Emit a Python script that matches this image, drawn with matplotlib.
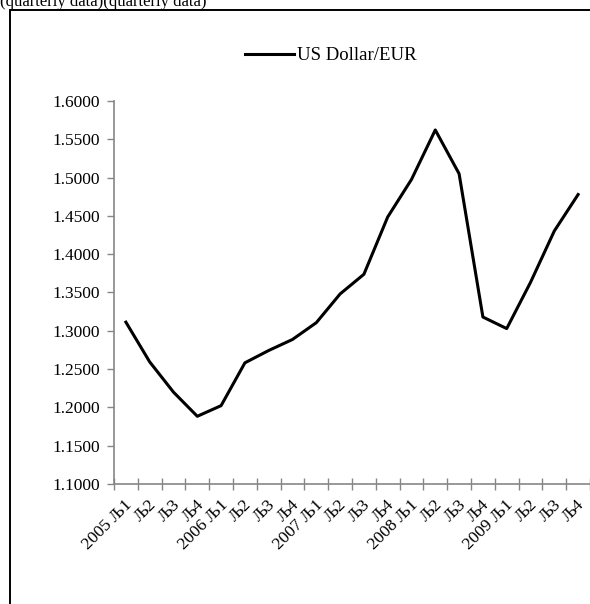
import numpy as np
import matplotlib
matplotlib.use("Agg")
import matplotlib.pyplot as plt
from matplotlib.patches import Rectangle

plt.rcParams['font.family'] = ['Liberation Serif', 'DejaVu Serif']

years = ['2005', '2006', '2007', '2008', '2009']
quarters = ['Љ1', 'Љ2', 'Љ3', 'Љ4']
usd_eur = [1.3113, 1.2594, 1.2199, 1.1884,
           1.2023, 1.2582, 1.2743, 1.2887,
           1.3106, 1.3481, 1.3738, 1.4486,
           1.4976, 1.5622, 1.5050, 1.3180,
           1.3029, 1.3632, 1.4303, 1.4779]
yticks = [1.10, 1.15, 1.20, 1.25, 1.30, 1.35, 1.40, 1.45, 1.50, 1.55, 1.60]

labels = []
for y in years:
    for i, q in enumerate(quarters):
        labels.append(y + ' ' + q if i == 0 else q)

fig = plt.figure(figsize=(5.9, 6.04), dpi=100)
ax = fig.add_axes([114 / 590, 1 - 484 / 604, 1 - 114 / 590, (484 - 101) / 604])

x = np.arange(len(usd_eur))
ax.plot(x, usd_eur, color='black', lw=2.2, label='US Dollar/EUR')

grey = '#868686'
ax.set_xlim(-0.5, len(usd_eur) - 0.5)
ax.set_ylim(1.1, 1.6)
ax.set_yticks(yticks)
ax.set_yticklabels(['%.4f' % v for v in yticks])
ax.set_xticks(np.arange(-0.5, len(usd_eur)))
ax.set_xticklabels([])
ax.tick_params(axis='x', direction='inout', length=9, width=1, color=grey)
ax.tick_params(axis='y', direction='out', length=5, width=1, color=grey,
               labelsize=12.5, pad=5)

# category labels, rotated, hanging under each quarter
for i, lab in enumerate(labels):
    ax.annotate(lab, xy=(i, 1.1), xycoords='data', xytext=(-1, -9),
                textcoords='offset points', rotation=45, rotation_mode='anchor',
                ha='right', va='top', fontsize=12.5, annotation_clip=False)

for s in ['top', 'right']:
    ax.spines[s].set_visible(False)
for s in ['left', 'bottom']:
    ax.spines[s].set_color(grey)
    ax.spines[s].set_linewidth(1.2)
ax.spines['bottom'].set_clip_on(False)

ax.legend(loc='upper left', bbox_to_anchor=(0.24, 1.185), frameon=False,
          fontsize=13.5, handlelength=2.6, handletextpad=0.15)

# outer border of the chart area
fig.patches.append(Rectangle((9.5 / 590, -0.1), 1.2, 1 - 10.5 / 604 + 0.1,
                             transform=fig.transFigure, fill=False,
                             edgecolor='black', lw=1.4))
fig.text(0.0, 1.0 + 6 / 604, '(quarterly data)(quarterly data)',
         ha='left', va='top', fontsize=12)

fig.savefig('out.png', dpi=100)
